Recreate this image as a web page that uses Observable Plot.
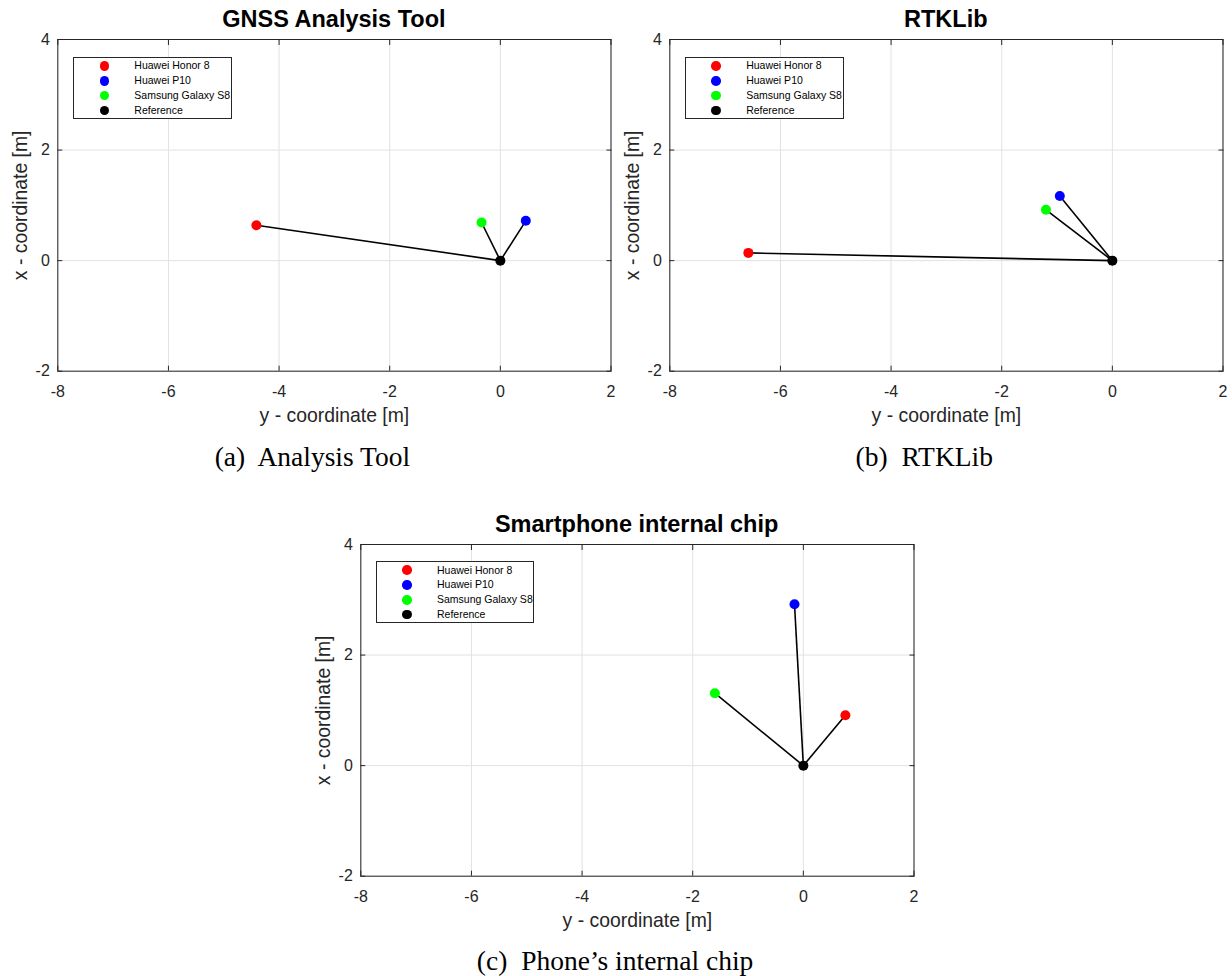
<!DOCTYPE html>
<html><head><meta charset="utf-8">
<script src="https://cdn.jsdelivr.net/npm/d3@7"></script>
<script src="https://cdn.jsdelivr.net/npm/@observablehq/plot@0.6"></script>
<style>
body{margin:0;background:#fff;}
#root{position:relative;width:1232px;height:976px;overflow:hidden;font-family:"Liberation Sans",Arial,sans-serif;}
.panel{position:absolute;}
.panel svg{overflow:visible;}
.title{position:absolute;width:600px;font-weight:bold;font-size:23.5px;line-height:1;text-align:center;white-space:nowrap;color:#000;}
.caption{position:absolute;width:600px;font-family:"Liberation Serif","Times New Roman",serif;font-size:27.5px;line-height:1;white-space:pre;text-align:center;color:#000;}
.legend{position:absolute;border:1px solid #262626;background:#fff;box-sizing:border-box;width:158.4px;height:62.3px;}
.legend .dot{position:absolute;width:9.5px;height:9.5px;border-radius:50%;}
.legend .lbl{position:absolute;font-size:10.5px;line-height:1;white-space:nowrap;color:#000;}
</style>
</head><body><div id="root"></div>
<script>
// ---- data ----
const devices = ["Huawei Honor 8", "Huawei P10", "Samsung Galaxy S8"];
const referenceName = "Reference";
const referenceYX = [0, 0];               // [y, x] of the reference point
const seriesColors = ["#ff0000", "#0000ff", "#00ff00", "#000000"];

const analysisToolY = [-4.41, 0.46, -0.34];
const analysisToolX = [0.64, 0.72, 0.69];
const rtklibY = [-6.58, -0.95, -1.20];
const rtklibX = [0.14, 1.17, 0.92];
const phoneChipY = [0.76, -0.16, -1.60];
const phoneChipX = [0.91, 2.92, 1.31];

const yCoordTicks = [-8, -6, -4, -2, 0, 2];   // horizontal axis
const xCoordTicks = [-2, 0, 2, 4];            // vertical axis
const horizontalLabel = "y - coordinate [m]";
const verticalLabel = "x - coordinate [m]";

const panelTitles = ["GNSS Analysis Tool", "RTKLib", "Smartphone internal chip"];
const panelCaptions = ["(a)  Analysis Tool", "(b)  RTKLib", "(c)  Phone\u2019s internal chip"];

// ---- layout ----
const FW = 553.2, FH = 331.7;
const panels = [
  {ys: analysisToolY, xs: analysisToolX, fx0: 57.3, fy0: 39.3},
  {ys: rtklibY, xs: rtklibX, fx0: 669.2, fy0: 39.3},
  {ys: phoneChipY, xs: phoneChipX, fx0: 360, fy0: 543.5}
];

const root = document.getElementById("root");
const gridColor = "#e2e2e2";
const axisColor = "#262626";

panels.forEach((p, i) => {
  const pts = devices.map((name, j) => ({name, y: p.ys[j], x: p.xs[j]}));
  const allPts = [...pts, {name: referenceName, y: referenceYX[0], x: referenceYX[1]}];
  const ML = 57.3, MR = 9, MT = 10, MB = 60;
  const chart = Plot.plot({
    width: ML + FW + MR,
    height: MT + FH + MB,
    marginLeft: ML, marginRight: MR, marginTop: MT, marginBottom: MB,
    x: {domain: [yCoordTicks[0], yCoordTicks[yCoordTicks.length - 1]]},
    y: {domain: [xCoordTicks[0], xCoordTicks[xCoordTicks.length - 1]]},
    color: {domain: [...devices, referenceName], range: seriesColors},
    style: {fontFamily: '"Liberation Sans", Arial, sans-serif', fontSize: "16px", color: axisColor, background: "transparent", overflow: "visible"},
    marks: [
      Plot.gridX(yCoordTicks, {stroke: gridColor, strokeOpacity: 1}),
      Plot.gridY(xCoordTicks, {stroke: gridColor, strokeOpacity: 1}),
      Plot.link(pts, {x1: () => referenceYX[0], y1: () => referenceYX[1], x2: "y", y2: "x", stroke: "#000", strokeWidth: 1.6}),
      Plot.dot(allPts, {x: "y", y: "x", fill: "name", r: 5}),
      Plot.frame({stroke: axisColor, strokeWidth: 1}),
      Plot.axisX(yCoordTicks, {anchor: "bottom", tickSize: -5, tickPadding: 19, tickFormat: d => String(d), label: null, stroke: axisColor, fill: axisColor}),
      Plot.axisX(yCoordTicks, {anchor: "top", tickSize: -5, tickFormat: () => "", label: null, stroke: axisColor}),
      Plot.axisY(xCoordTicks, {anchor: "left", tickSize: -5, tickPadding: 13, tickFormat: d => String(d), label: null, stroke: axisColor, fill: axisColor}),
      Plot.axisY(xCoordTicks, {anchor: "right", tickSize: -5, tickFormat: () => "", label: null, stroke: axisColor}),
      Plot.text([horizontalLabel], {frameAnchor: "bottom", lineAnchor: "bottom", textAnchor: "middle", dy: 50.5, fontSize: 19.4, fill: axisColor}),
      Plot.text([verticalLabel], {frameAnchor: "left", lineAnchor: "middle", textAnchor: "middle", dx: -37, rotate: -90, fontSize: 19.4, fill: axisColor})
    ]
  });
  const holder = document.createElement("div");
  holder.className = "panel";
  holder.style.left = (p.fx0 - ML) + "px";
  holder.style.top = (p.fy0 - MT) + "px";
  holder.appendChild(chart);
  root.appendChild(holder);

  const cx = p.fx0 + FW / 2;
  const t = document.createElement("div");
  t.className = "title";
  t.textContent = panelTitles[i];
  t.style.left = (cx - 300) + "px";
  t.style.top = (p.fy0 - 30.9) + "px";
  root.appendChild(t);

  const c = document.createElement("div");
  c.className = "caption";
  c.textContent = panelCaptions[i];
  c.style.left = (cx - 21.5 - 300) + "px";
  c.style.top = (p.fy0 + FH + 71.7) + "px";
  root.appendChild(c);

  const lg = document.createElement("div");
  lg.className = "legend";
  lg.style.left = (p.fx0 + 16) + "px";
  lg.style.top = (p.fy0 + 17.4) + "px";
  [...devices, referenceName].forEach((name, j) => {
    const cy = 8.3 + j * 14.8;
    const d = document.createElement("div");
    d.className = "dot";
    d.style.background = seriesColors[j];
    d.style.left = (30 - 4.75) + "px";
    d.style.top = (cy - 4.75) + "px";
    lg.appendChild(d);
    const l = document.createElement("div");
    l.className = "lbl";
    l.textContent = name;
    l.style.left = "60px";
    l.style.top = (cy - 5.5) + "px";
    lg.appendChild(l);
  });
  root.appendChild(lg);
});
</script>
</body></html>
